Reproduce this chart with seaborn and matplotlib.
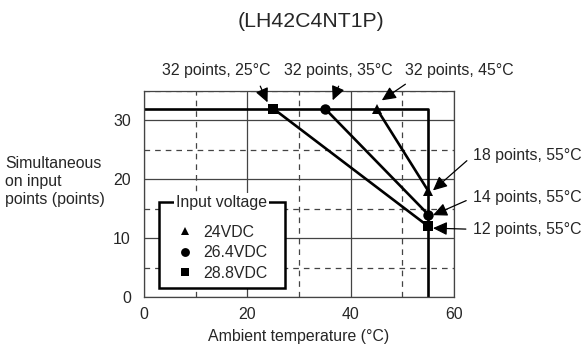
import numpy as np
import pandas as pd
import seaborn as sns
from matplotlib import pyplot as plt
from matplotlib.lines import Line2D
from matplotlib.ticker import MultipleLocator

# derating data
voltages = ['24VDC', '26.4VDC', '28.8VDC']
start_temp = [45, 35, 25]
start_points = [32, 32, 32]
end_temp = [55, 55, 55]
end_points = [18, 14, 12]
markers = ['^', 'o', 's']
marker_sizes = [6.5, 7.5, 7]

# max input envelope
limit_temp = [0, 55, 55]
limit_points = [32, 32, 0]

sns.set_style("white")
plt.rcParams['font.family'] = ['Liberation Sans', 'DejaVu Sans']
plt.rcParams['font.size'] = 11.4

rows = []
for v, t0, p0, t1, p1 in zip(voltages, start_temp, start_points, end_temp, end_points):
    rows.append({'voltage': v, 'temp': t0, 'points': p0})
    rows.append({'voltage': v, 'temp': t1, 'points': p1})
df = pd.DataFrame(rows)

fig = plt.figure(figsize=(5.83, 3.47), dpi=100)
ax = fig.add_axes([0.247, 0.144, 0.532, 0.594])

ax.set_xlim(0, 60)
ax.set_ylim(0, 35)
ax.xaxis.set_major_locator(MultipleLocator(20))
ax.xaxis.set_minor_locator(MultipleLocator(10))
ax.yaxis.set_major_locator(MultipleLocator(10))
ax.yaxis.set_minor_locator(MultipleLocator(5))
ax.grid(which='major', ls='-', color='#444444', lw=0.9)
ax.grid(which='minor', ls=(0, (4.5, 4)), color='#444444', lw=0.9)
ax.set_axisbelow(True)
for s in ax.spines.values():
    s.set_color('#444444')
    s.set_linewidth(0.9)
ax.tick_params(which='both', length=0)
ax.tick_params(axis='x', pad=7)
ax.tick_params(axis='y', pad=9.5)

sns.lineplot(x=limit_temp, y=limit_points, sort=False, estimator=None,
             color='black', lw=1.9, ax=ax)

for v, m, ms in zip(voltages, markers, marker_sizes):
    sub = df[df['voltage'] == v]
    sns.lineplot(data=sub, x='temp', y='points', color='black', lw=1.9,
                 marker=m, markersize=ms, markeredgewidth=0, ax=ax, legend=False)

# callouts
arrow = dict(arrowstyle='-|>,head_length=0.85,head_width=0.4', color='black',
             lw=0.9, mutation_scale=10, shrinkB=0)
top_text_x = [61.0, 37.5, 14.0]
top_relpos = [0.09, 0.54, 0.87]
top_tip = [(46.0, 33.4), (36.5, 33.4), (23.9, 33.05)]
for t, p, tx, rp, tip in zip(start_temp, start_points, top_text_x, top_relpos, top_tip):
    a = dict(arrow, relpos=(rp, 0), shrinkA=4)
    ax.annotate(f'{p} points, {t}°C', xy=tip, xytext=(tx, 38.5), ha='center',
                va='center', arrowprops=a, annotation_clip=False)

right_text_y = [24.1, 16.9, 11.5]
right_tip = [(55.9, 18.1), (55.9, 13.9), (55.9, 11.7)]
for t, p, ty, tip in zip(end_temp, end_points, right_text_y, right_tip):
    a = dict(arrow, relpos=(0, 0.5), shrinkA=3)
    ax.annotate(f'{p} points, {t}°C', xy=tip, xytext=(63.7, ty), ha='left',
                va='center', arrowprops=a, annotation_clip=False)

handles = [Line2D([], [], ls='none', marker=m, color='black', markersize=ms * 0.85,
                  markeredgewidth=0) for m, ms in zip(markers, marker_sizes)]
leg = ax.legend(handles, voltages, loc='lower left', mode='expand',
                bbox_to_anchor=(0.047, 0.044, 0.408, 0.41), borderaxespad=0,
                fancybox=False, edgecolor='black', framealpha=1, title=' ',
                title_fontsize=7, handlelength=2.4, handletextpad=0.0,
                labelspacing=0.35, borderpad=0.45)
leg.get_frame().set_linewidth(1.8)
ax.annotate('Input voltage', xy=(0.5, 1.0), xycoords=leg, ha='center', va='center',
            bbox=dict(fc='white', ec='none', pad=1.5), zorder=10)

ax.set_xlabel('Ambient temperature (°C)', labelpad=5.5)
ax.set_ylabel('')
fig.text(0.009, 0.478, 'Simultaneous\non input\npoints (points)', ha='left',
         va='center', linespacing=1.25)
fig.text(0.534, 0.937, '(LH42C4NT1P)', ha='center', va='center', fontsize=15.3)

fig.savefig('out.png', dpi=100)
